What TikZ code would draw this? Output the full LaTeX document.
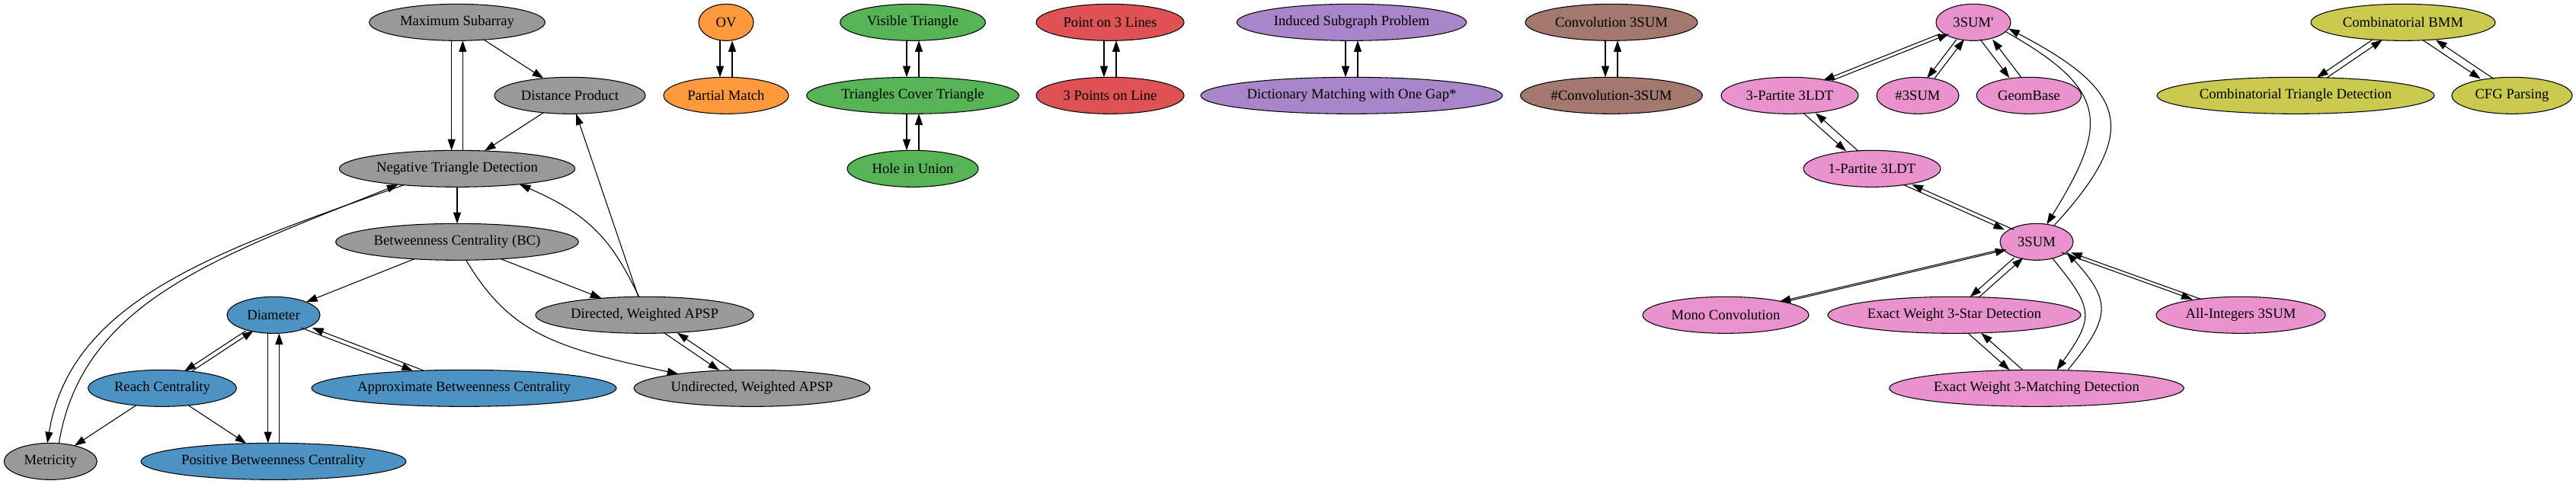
\documentclass[tikz,border=0pt]{standalone}
\usepackage{fontspec}
\setmainfont{Liberation Serif}
\usetikzlibrary{shapes.geometric,arrows.meta}

\definecolor{pgray}{RGB}{153,153,153}
\definecolor{pblue}{RGB}{76,146,195}
\definecolor{porange}{RGB}{255,153,62}
\definecolor{pgreen}{RGB}{86,179,86}
\definecolor{pred}{RGB}{222,82,83}
\definecolor{ppurple}{RGB}{169,133,202}
\definecolor{pbrown}{RGB}{163,120,111}
\definecolor{ppink}{RGB}{233,146,206}
\definecolor{polive}{RGB}{201,202,78}

% two reductions between the same pair, upper node first
\newcommand\pairedge[3][6pt]{%
  \draw[reduce,transform canvas={xshift=-#1}] (#2) -- (#3);
  \draw[reduce,transform canvas={xshift=#1}] (#3) -- (#2);}

\begin{document}
\begin{tikzpicture}[x=1pt,y=-1pt,
  prob/.style={ellipse,draw=black,line width=0.8pt,fill=#1,minimum height=36pt,inner sep=0pt,outer sep=0pt,font=\fontsize{14}{16}\selectfont},
  reduce/.style={-{Triangle[length=11pt,width=7.5pt]},line width=0.8pt}]

\useasboundingbox (0,0) rectangle (2535.75,476.25);

% gray and blue
\node[prob=pgray,minimum width=173pt] (ms) at (450,22) {Maximum Subarray};
\node[prob=pgray,minimum width=148.5pt] (dp) at (561,94) {Distance Product};
\node[prob=pgray,minimum width=232pt] (ntd) at (450,166) {Negative Triangle Detection};
\node[prob=pgray,minimum width=239pt] (bc) at (450,238) {Betweenness Centrality (BC)};
\node[prob=pblue,minimum width=91.5pt] (dia) at (269.25,310) {Diameter};
\node[prob=pgray,minimum width=214.5pt] (dwapsp) at (634.5,310) {Directed, Weighted APSP};
\node[prob=pblue,minimum width=146pt] (rc) at (159.75,382) {Reach Centrality};
\node[prob=pblue,minimum width=300pt] (abc) at (456.75,382) {Approximate Betweenness Centrality};
\node[prob=pgray,minimum width=232.5pt] (uwapsp) at (740.25,382) {Undirected, Weighted APSP};
\node[prob=pgray,minimum width=91.5pt] (met) at (49.75,454) {Metricity};
\node[prob=pblue,minimum width=261pt] (pbc) at (269.25,454) {Positive Betweenness Centrality};

% small clusters
\node[prob=porange,minimum width=54pt] (ov) at (714.75,22) {OV};
\node[prob=porange,minimum width=123pt] (pm) at (714.75,94) {Partial Match};
\node[prob=pgreen,minimum width=143pt] (vt) at (898.5,22) {Visible Triangle};
\node[prob=pgreen,minimum width=209pt] (tct) at (898.5,94) {Triangles Cover Triangle};
\node[prob=pgreen,minimum width=129pt] (hu) at (898.5,166) {Hole in Union};
\node[prob=pred,minimum width=145.5pt] (ptl) at (1092.75,22) {Point on 3 Lines};
\node[prob=pred,minimum width=145.5pt] (tpl) at (1092.75,94) {3 Points on Line};
\node[prob=ppurple,minimum width=226pt] (isp) at (1330.5,22) {Induced Subgraph Problem};
\node[prob=ppurple,minimum width=297pt] (dm) at (1330.5,94) {Dictionary Matching with One Gap*};
\node[prob=pbrown,minimum width=169.5pt] (cs) at (1586.25,22) {Convolution 3SUM};
\node[prob=pbrown,minimum width=179pt] (scs) at (1586.25,94) {\#Convolution-3SUM};

% pink
\node[prob=ppink,minimum width=73.5pt] (tsp) at (1942.5,22) {3SUM\textquotesingle};
\node[prob=ppink,minimum width=135pt] (tpt) at (1761.75,94) {3-Partite 3LDT};
\node[prob=ppink,minimum width=81pt] (nts) at (1887.75,94) {\#3SUM};
\node[prob=ppink,minimum width=103pt] (gb) at (1997.25,94) {GeomBase};
\node[prob=ppink,minimum width=135pt] (opt) at (1842.75,166) {1-Partite 3LDT};
\node[prob=ppink,minimum width=72pt] (ts) at (2004.75,238) {3SUM};
\node[prob=ppink,minimum width=163.5pt] (mc) at (1698.75,310) {Mono Convolution};
\node[prob=ppink,minimum width=249pt] (ews) at (1923.75,310) {Exact Weight 3-Star Detection};
\node[prob=ppink,minimum width=166.5pt] (ai) at (2205.75,310) {All-Integers 3SUM};
\node[prob=ppink,minimum width=290pt] (ewm) at (2004.75,382) {Exact Weight 3-Matching Detection};

% olive
\node[prob=polive,minimum width=181.5pt] (cbmm) at (2365.5,22) {Combinatorial BMM};
\node[prob=polive,minimum width=273pt] (ctd) at (2259.75,94) {Combinatorial Triangle Detection};
\node[prob=polive,minimum width=118.5pt] (cfg) at (2472.75,94) {CFG Parsing};

% edges
\pairedge[5.5pt]{ms}{ntd}
\draw[reduce] (ms) -- (dp);
\draw[reduce] (dp) -- (ntd);
\draw[reduce] (dwapsp) -- (dp);
\draw[reduce] (ntd) -- (bc);
\draw[reduce] (bc) -- (dia);
\draw[reduce] (bc) -- (dwapsp);
\draw[reduce] (bc.-64) .. controls (501.3,327) and (544,342) .. (uwapsp.169);
\draw[reduce] (dwapsp.107) .. controls (602.6,237.2) and (581.9,212) .. (ntd.-14);
\pairedge[6.5pt]{dwapsp}{uwapsp}
\draw[reduce] (ntd.-163.5) .. controls (213.2,246.8) and (69.5,295.4) .. (met.100);
\draw[reduce] (met.65) .. controls (80.7,296.9) and (214.7,252.8) .. (ntd.-165.5);
\pairedge[3.75pt]{dia}{rc}
\pairedge[5.5pt]{dia}{pbc}
\pairedge[5.5pt]{dia}{abc}
\draw[reduce] (rc) -- (met);
\draw[reduce] (rc) -- (pbc);

\pairedge{ov}{pm}
\pairedge{vt}{tct}
\pairedge{tct}{hu}
\pairedge{ptl}{tpl}
\pairedge{isp}{dm}
\pairedge{cs}{scs}

\pairedge[4.5pt]{tsp}{tpt}
\pairedge[3.75pt]{tsp}{nts}
\pairedge{tsp}{gb}
\pairedge{tpt}{opt}
\pairedge[4.5pt]{opt}{ts}
\draw[reduce] (ts.43) .. controls (2109,127.5) and (2092.5,88.5) .. (tsp.-10);
\draw[reduce] (tsp.-16.5) .. controls (2076,88.5) and (2076,121.5) .. (ts.60);
\pairedge[3pt]{ts}{mc}
\pairedge[4.5pt]{ts}{ews}
\pairedge[4.5pt]{ts}{ai}
\pairedge[6.5pt]{ews}{ewm}
\draw[reduce] (ts.-46) .. controls (2061,303.75) and (2061.75,312) .. (ewm.42.6);
\draw[reduce] (ewm.30) .. controls (2077.1,313.3) and (2079.8,297.2) .. (ts.-19);

\pairedge[5pt]{cbmm}{ctd}
\pairedge[6.5pt]{cbmm}{cfg}

\end{tikzpicture}
\end{document}
